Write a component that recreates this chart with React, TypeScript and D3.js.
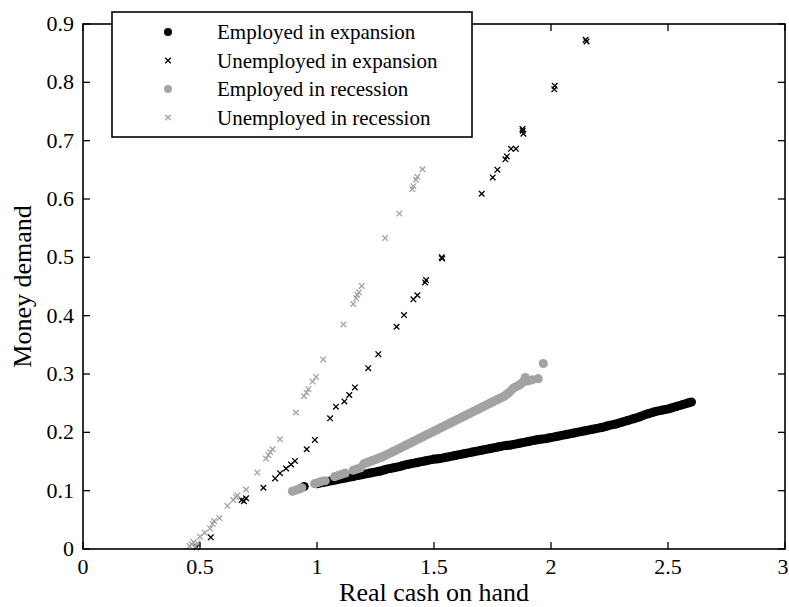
import React from "react";
import * as d3 from "d3";

const W = 789;
const H = 607;

const xTicks = [0, 0.5, 1, 1.5, 2, 2.5, 3];
const xTickLabels = ["0", "0.5", "1", "1.5", "2", "2.5", "3"];
const yTicks = [0, 0.1, 0.2, 0.3, 0.4, 0.5, 0.6, 0.7, 0.8, 0.9];
const yTickLabels = ["0", "0.1", "0.2", "0.3", "0.4", "0.5", "0.6", "0.7", "0.8", "0.9"];

const seriesNames = [
  "Employed in expansion",
  "Unemployed in expansion",
  "Employed in recession",
  "Unemployed in recession",
];

// Employed in expansion (black dots)
const employedExpansion: [number, number][] = [
  [0.945, 0.107], [1.0, 0.112], [1.025, 0.114], [1.05, 0.116], [1.075, 0.118], [1.1, 0.12],
  [1.125, 0.122], [1.15, 0.124], [1.175, 0.126], [1.2, 0.128], [1.225, 0.13], [1.25, 0.132],
  [1.275, 0.134], [1.3, 0.137], [1.325, 0.139], [1.35, 0.141], [1.375, 0.144], [1.4, 0.146],
  [1.425, 0.148], [1.45, 0.15], [1.475, 0.152], [1.5, 0.154], [1.525, 0.155], [1.55, 0.157],
  [1.575, 0.159], [1.6, 0.161], [1.625, 0.163], [1.65, 0.165], [1.675, 0.167], [1.7, 0.169],
  [1.725, 0.171], [1.75, 0.173], [1.775, 0.175], [1.8, 0.177], [1.825, 0.178], [1.85, 0.18],
  [1.875, 0.182], [1.9, 0.184], [1.925, 0.186], [1.95, 0.188], [1.975, 0.189], [2.0, 0.191],
  [2.025, 0.193], [2.05, 0.195], [2.075, 0.197], [2.1, 0.199], [2.125, 0.201], [2.15, 0.203],
  [2.175, 0.205], [2.2, 0.207], [2.225, 0.209], [2.25, 0.212], [2.275, 0.214], [2.3, 0.217],
  [2.325, 0.22], [2.35, 0.223], [2.375, 0.226], [2.4, 0.23], [2.425, 0.233], [2.45, 0.236],
  [2.475, 0.238], [2.5, 0.24], [2.525, 0.243], [2.55, 0.246], [2.575, 0.249], [2.6, 0.252],
  [1.0125, 0.113], [1.0375, 0.115], [1.0625, 0.117], [1.0875, 0.119], [1.1125, 0.121],
  [1.1375, 0.123], [1.1625, 0.125], [1.1875, 0.127], [1.2125, 0.129], [1.2375, 0.131],
  [1.2625, 0.133], [1.2875, 0.1355], [1.3125, 0.138], [1.3375, 0.14], [1.3625, 0.1425],
  [1.3875, 0.145], [1.4125, 0.147], [1.4375, 0.149], [1.4625, 0.151], [1.4875, 0.153],
  [1.5125, 0.1545], [1.5375, 0.156], [1.5625, 0.158], [1.5875, 0.16], [1.6125, 0.162],
  [1.6375, 0.164], [1.6625, 0.166], [1.6875, 0.168], [1.7125, 0.17], [1.7375, 0.172],
  [1.7625, 0.174], [1.7875, 0.176], [1.8125, 0.1775], [1.8375, 0.179], [1.8625, 0.181],
  [1.8875, 0.183], [1.9125, 0.185], [1.9375, 0.187], [1.9625, 0.1885], [1.9875, 0.19],
  [2.0125, 0.192], [2.0375, 0.194], [2.0625, 0.196], [2.0875, 0.198], [2.1125, 0.2],
  [2.1375, 0.202], [2.1625, 0.204], [2.1875, 0.206], [2.2125, 0.208], [2.2375, 0.2105],
  [2.2625, 0.213], [2.2875, 0.2155], [2.3125, 0.2185], [2.3375, 0.2215], [2.3625, 0.2245],
  [2.3875, 0.228], [2.4125, 0.2315], [2.4375, 0.2345], [2.4625, 0.237], [2.4875, 0.239],
  [2.5125, 0.2415], [2.5375, 0.2445], [2.5625, 0.2475], [2.5875, 0.2505],
];

// Unemployed in expansion (black crosses)
const unemployedExpansion: [number, number][] = [
  [0.485, 0.003], [0.546, 0.02], [0.678, 0.084], [0.688, 0.082], [0.697, 0.087], [0.771, 0.105],
  [0.821, 0.121], [0.842, 0.13], [0.868, 0.138], [0.889, 0.145], [0.906, 0.151], [0.956, 0.171],
  [0.991, 0.187], [1.056, 0.224], [1.081, 0.244], [1.117, 0.253], [1.138, 0.264], [1.162, 0.277],
  [1.219, 0.31], [1.262, 0.334], [1.34, 0.381], [1.372, 0.401], [1.412, 0.428], [1.429, 0.435],
  [1.462, 0.457], [1.466, 0.461], [1.533, 0.5], [1.535, 0.498], [1.704, 0.609], [1.751, 0.637],
  [1.771, 0.65], [1.805, 0.668], [1.811, 0.673], [1.829, 0.686], [1.85, 0.686], [1.879, 0.717],
  [1.882, 0.712], [1.878, 0.72], [2.016, 0.794], [2.014, 0.788], [2.148, 0.873], [2.152, 0.87],
];

// Employed in recession (gray dots)
const employedRecession: [number, number][] = [
  [0.895, 0.099], [0.91, 0.101], [0.925, 0.103], [0.935, 0.105],
  [0.99, 0.112], [1.005, 0.114], [1.02, 0.116], [1.035, 0.117],
  [1.075, 0.124], [1.09, 0.126], [1.105, 0.128], [1.12, 0.13],
  [1.155, 0.135], [1.17, 0.137], [1.185, 0.139],
  [1.2, 0.146], [1.22, 0.149], [1.24, 0.152], [1.26, 0.155], [1.28, 0.158], [1.3, 0.162],
  [1.32, 0.166], [1.34, 0.17], [1.36, 0.174], [1.38, 0.178], [1.4, 0.182], [1.42, 0.186],
  [1.44, 0.19], [1.46, 0.194], [1.48, 0.198], [1.5, 0.202], [1.52, 0.206], [1.54, 0.21],
  [1.56, 0.214], [1.58, 0.218], [1.6, 0.222], [1.62, 0.226], [1.64, 0.23], [1.66, 0.234],
  [1.68, 0.238], [1.7, 0.242], [1.72, 0.246], [1.74, 0.25], [1.76, 0.254], [1.78, 0.258],
  [1.8, 0.262], [1.82, 0.268], [1.84, 0.276], [1.86, 0.28], [1.88, 0.286], [1.89, 0.294],
  [1.9, 0.288], [1.92, 0.29], [1.945, 0.292], [1.967, 0.318],
  [1.21, 0.1475], [1.23, 0.1505], [1.25, 0.1535], [1.27, 0.1565], [1.29, 0.16], [1.31, 0.164],
  [1.33, 0.168], [1.35, 0.172], [1.37, 0.176], [1.39, 0.18], [1.41, 0.184], [1.43, 0.188],
  [1.45, 0.192], [1.47, 0.196], [1.49, 0.2], [1.51, 0.204], [1.53, 0.208], [1.55, 0.212],
  [1.57, 0.216], [1.59, 0.22], [1.61, 0.224], [1.63, 0.228], [1.65, 0.232], [1.67, 0.236],
  [1.69, 0.24], [1.71, 0.244], [1.73, 0.248], [1.75, 0.252], [1.77, 0.256], [1.79, 0.26],
  [1.81, 0.265], [1.83, 0.272], [1.85, 0.278], [1.87, 0.283],
];

// Unemployed in recession (gray crosses)
const unemployedRecession: [number, number][] = [
  [0.455, 0.005], [0.465, 0.008], [0.472, 0.012], [0.48, 0.004], [0.49, 0.01], [0.5, 0.021],
  [0.52, 0.028], [0.543, 0.035], [0.554, 0.043], [0.56, 0.048], [0.583, 0.053], [0.617, 0.074],
  [0.642, 0.084], [0.654, 0.089], [0.66, 0.092], [0.697, 0.102], [0.745, 0.131], [0.782, 0.155],
  [0.792, 0.161], [0.8, 0.166], [0.81, 0.171], [0.842, 0.188], [0.91, 0.234], [0.944, 0.262],
  [0.955, 0.268], [0.963, 0.274], [0.981, 0.287], [0.996, 0.295], [1.027, 0.325], [1.113, 0.385],
  [1.155, 0.42], [1.167, 0.43], [1.172, 0.436], [1.179, 0.44], [1.191, 0.451], [1.291, 0.533],
  [1.352, 0.575], [1.407, 0.617], [1.412, 0.622], [1.423, 0.633], [1.429, 0.638], [1.451, 0.651],
];

const BLACK = "#000000";
const GRAY = "#a3a3a3";
const FONT = "'Liberation Serif', 'Times New Roman', serif";

const M = { left: 83, right: 785, top: 24, bottom: 549 };

const Cross = ({ cx, cy, s, color }: { cx: number; cy: number; s: number; color: string }) => (
  <path
    d={`M${cx - s},${cy - s}L${cx + s},${cy + s}M${cx - s},${cy + s}L${cx + s},${cy - s}`}
    stroke={color}
    strokeWidth={1.3}
    fill="none"
  />
);

export default function App() {
  const x = d3.scaleLinear().domain([0, 3]).range([M.left, M.right]);
  const y = d3.scaleLinear().domain([0, 0.9]).range([M.bottom, M.top]);
  const r = 4.6;
  const cs = 2.8;
  const tickLen = 7;

  const legend = { x: 112, y: 12, w: 360, h: 125 };
  const rowY = (i: number) => 32 + i * 28.5;

  return (
    <svg
      width={W}
      height={H}
      style={{ position: "absolute", left: 0, top: 0, background: "#fff" }}
      fontFamily={FONT}
    >
      <rect x={0} y={0} width={W} height={H} fill="#fff" />
      <g>
        {employedExpansion.map((d, i) => (
          <circle key={"ee" + i} cx={x(d[0])} cy={y(d[1])} r={r} fill={BLACK} />
        ))}
        {unemployedExpansion.map((d, i) => (
          <Cross key={"ue" + i} cx={x(d[0])} cy={y(d[1])} s={cs} color={BLACK} />
        ))}
        {employedRecession.map((d, i) => (
          <circle key={"er" + i} cx={x(d[0])} cy={y(d[1])} r={r} fill={GRAY} />
        ))}
        {unemployedRecession.map((d, i) => (
          <Cross key={"ur" + i} cx={x(d[0])} cy={y(d[1])} s={cs} color={GRAY} />
        ))}
      </g>
      <rect
        x={M.left}
        y={M.top}
        width={M.right - M.left}
        height={M.bottom - M.top}
        fill="none"
        stroke="#000"
        strokeWidth={1.6}
      />
      {xTicks.map((t, i) => (
        <g key={"xt" + i}>
          <line x1={x(t)} x2={x(t)} y1={M.bottom} y2={M.bottom - tickLen} stroke="#000" strokeWidth={1.3} />
          <line x1={x(t)} x2={x(t)} y1={M.top} y2={M.top + tickLen} stroke="#000" strokeWidth={1.3} />
          <text x={Math.min(x(t), 783)} y={M.bottom + 25} textAnchor="middle" fontSize={22} fill="#000">
            {xTickLabels[i]}
          </text>
        </g>
      ))}
      {yTicks.map((t, i) => (
        <g key={"yt" + i}>
          <line x1={M.left} x2={M.left + tickLen} y1={y(t)} y2={y(t)} stroke="#000" strokeWidth={1.3} />
          <line x1={M.right} x2={M.right - tickLen} y1={y(t)} y2={y(t)} stroke="#000" strokeWidth={1.3} />
          <text x={M.left - 9} y={y(t) + 7} textAnchor="end" fontSize={22} fill="#000">
            {yTickLabels[i]}
          </text>
        </g>
      ))}
      <text x={(M.left + M.right) / 2} y={601} textAnchor="middle" fontSize={26} fill="#000">
        Real cash on hand
      </text>
      <text
        transform={`translate(31,${(M.top + M.bottom) / 2}) rotate(-90)`}
        textAnchor="middle"
        fontSize={26}
        fill="#000"
      >
        Money demand
      </text>
      <rect x={legend.x} y={legend.y} width={legend.w} height={legend.h} fill="#fff" stroke="#000" strokeWidth={1.6} />
      {seriesNames.map((name, i) => {
        const cy = rowY(i);
        const mx = 168;
        const color = i < 2 ? BLACK : GRAY;
        return (
          <g key={"lg" + i}>
            {i % 2 === 0 ? (
              <circle cx={mx} cy={cy} r={4} fill={color} />
            ) : (
              <Cross cx={mx} cy={cy} s={cs} color={color} />
            )}
            <text x={217} y={cy + 7} fontSize={21} fill="#000">
              {name}
            </text>
          </g>
        );
      })}
    </svg>
  );
}
